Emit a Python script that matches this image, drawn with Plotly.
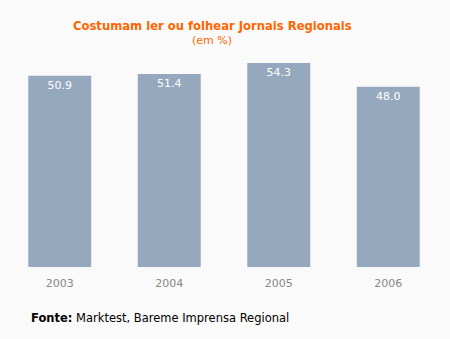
import plotly.graph_objects as go

years = ["2003", "2004", "2005", "2006"]
values = [50.9, 51.4, 54.3, 48.0]
labels = ["50.9", "51.4", "54.3", "48.0"]

W, H = 450, 339
L, R, T, B = 5, 7, 63, 72
pw = W - L - R
ph = H - T - B

def px(x):
    return (x - L) / pw

def py(y):
    return (H - B - y) / ph

fig = go.Figure(go.Bar(
    x=years, y=values, text=labels,
    textposition="inside", insidetextanchor="end",
    textfont=dict(color="white", size=11, family="DejaVu Sans"),
    marker=dict(color="#96A8BE", line=dict(width=0)),
    cliponaxis=False, hoverinfo="skip",
))

fig.update_layout(
    width=W, height=H,
    margin=dict(l=L, r=R, t=T, b=B),
    paper_bgcolor="#FAFAFA", plot_bgcolor="#FAFAFA",
    bargap=0.425, showlegend=False,
    font=dict(family="DejaVu Sans"),
    xaxis=dict(showgrid=False, showline=False, zeroline=False, ticks="",
               ticklabelstandoff=8,
               tickfont=dict(color="#888888", size=11, family="DejaVu Sans")),
    yaxis=dict(range=[0, 54.3], visible=False),
    annotations=[
        dict(text="<b>Costumam ler ou folhear Jornais Regionais</b>", x=px(212), y=py(26),
             xref="paper", yref="paper", showarrow=False, xanchor="center", yanchor="middle",
             font=dict(color="#FF6600", size=11.6, family="DejaVu Sans")),
        dict(text="(em %)", x=px(212), y=py(41),
             xref="paper", yref="paper", showarrow=False, xanchor="center", yanchor="middle",
             font=dict(color="#FF6600", size=11, family="DejaVu Sans")),
        dict(text="<b>Fonte:</b> Marktest, Bareme Imprensa Regional", x=px(29), y=py(318),
             xref="paper", yref="paper", showarrow=False, xanchor="left", yanchor="middle",
             font=dict(color="#000000", size=11.5, family="DejaVu Sans")),
    ],
)

fig.write_html("out.html")
